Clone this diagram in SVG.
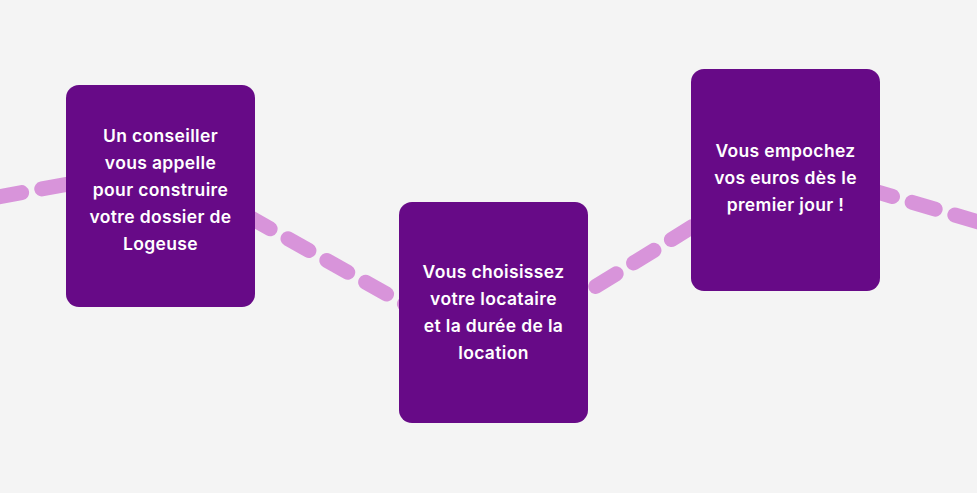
<svg xmlns="http://www.w3.org/2000/svg" width="977" height="493" viewBox="0 0 977 493">
<style>
.bg{fill:#f4f4f4}
.box{fill:#670a87}
.lbl{font-family:Inter,"Open Sans","Liberation Sans",sans-serif;font-weight:600;font-size:17.5px;letter-spacing:0.35px;fill:#ffffff;text-anchor:middle}
.conn{fill:none;stroke:#d894da;stroke-width:15;stroke-linecap:round;stroke-linejoin:round;stroke-dasharray:24 20.5}
</style>
<rect class="bg" x="0" y="0" width="977" height="493"/>
<g id="connectors">
<path class="conn" d="M-2,197 L160,167 L490,352 L790,166 L985,224"/>
</g>
<g id="node1">
<rect class="box" x="66" y="85" width="189" height="222" rx="13"/>
<text class="lbl" x="160.5" y="142">Un conseiller</text>
<text class="lbl" x="160.5" y="169">vous appelle</text>
<text class="lbl" x="160.5" y="196">pour construire</text>
<text class="lbl" x="160.5" y="223">votre dossier de</text>
<text class="lbl" x="160.5" y="250">Logeuse</text>
</g>
<g id="node2">
<rect class="box" x="399" y="202" width="189" height="221" rx="13"/>
<text class="lbl" x="493.5" y="278">Vous choisissez</text>
<text class="lbl" x="493.5" y="305">votre locataire</text>
<text class="lbl" x="493.5" y="332">et la durée de la</text>
<text class="lbl" x="493.5" y="359">location</text>
</g>
<g id="node3">
<rect class="box" x="691" y="69" width="189" height="222" rx="13"/>
<text class="lbl" x="785.5" y="157">Vous empochez</text>
<text class="lbl" x="785.5" y="184">vos euros dès le</text>
<text class="lbl" x="785.5" y="211">premier jour !</text>
</g>
</svg>
